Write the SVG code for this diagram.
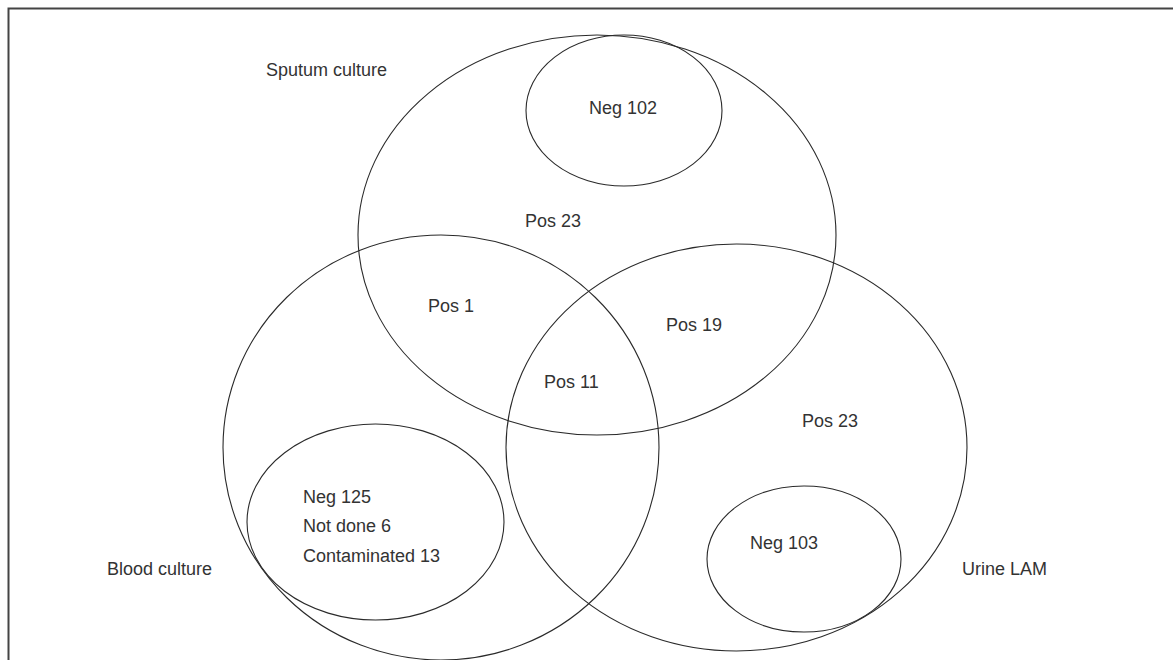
<svg xmlns="http://www.w3.org/2000/svg" width="1173" height="660" viewBox="0 0 1173 660">
<style>
.set{fill:none;stroke:#2a2a2a;stroke-width:1.1}
.sub{fill:none;stroke:#2a2a2a;stroke-width:1.1}
text{font-family:"Liberation Sans",Arial,sans-serif;font-size:18px;fill:#333}
.frame{fill:none;stroke:#444;stroke-width:2}
</style>
<rect width="1173" height="660" fill="#fff"/>
<path class="frame" d="M8.5,670 V8.5 H1180"/>
<g id="sputum">
<ellipse class="set" cx="597" cy="235" rx="239" ry="200"/>
<text x="266" y="76">Sputum culture</text>
<text x="525" y="227">Pos 23</text>
</g>
<g id="sputum-neg">
<ellipse class="sub" cx="624" cy="110.5" rx="98" ry="75.5"/>
<text x="589" y="114">Neg 102</text>
</g>
<g id="blood">
<ellipse class="set" cx="441" cy="447.5" rx="218" ry="212.5"/>
<text x="107" y="575">Blood culture</text>
</g>
<g id="blood-neg">
<ellipse class="sub" cx="375.5" cy="522" rx="128.5" ry="98"/>
<text x="303" y="503">Neg 125</text>
<text x="303" y="532">Not done 6</text>
<text x="303" y="562">Contaminated 13</text>
</g>
<g id="urine">
<ellipse class="set" cx="736.5" cy="447.5" rx="230.5" ry="203.5"/>
<text x="962" y="575">Urine LAM</text>
<text x="802" y="427">Pos 23</text>
</g>
<g id="urine-neg">
<ellipse class="sub" cx="804" cy="559" rx="97" ry="73"/>
<text x="750" y="549">Neg 103</text>
</g>
<g id="overlaps">
<text x="428" y="312">Pos 1</text>
<text x="666" y="331">Pos 19</text>
<text x="544" y="388">Pos 11</text>
</g>
<g id="connectors"></g>
</svg>
